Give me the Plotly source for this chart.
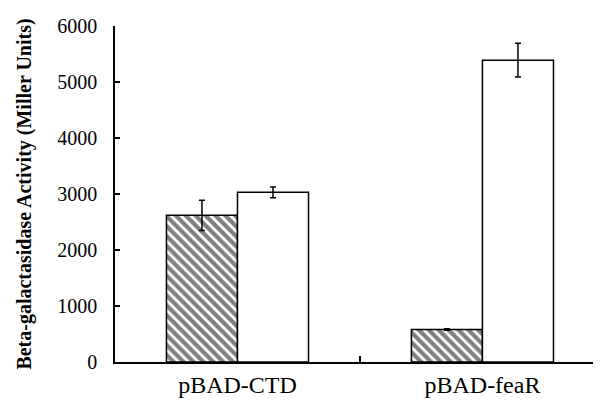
import plotly.graph_objects as go

categories = ["pBAD-CTD", "pBAD-feaR"]
hatched_values = [2620, 580]
hatched_errors = [270, 15]
open_values = [3030, 5390]
open_errors = [95, 300]
y_ticks = [0, 1000, 2000, 3000, 4000, 5000, 6000]

xpos = list(range(len(categories)))
font = "Liberation Serif, Times New Roman, serif"
xrange = [-0.5, 1.484]

fig = go.Figure()
fig.add_trace(go.Bar(
    x=xpos, y=hatched_values,
    error_y=dict(type="data", array=hatched_errors, color="black", thickness=1.5, width=3),
    marker=dict(color="white", line=dict(color="black", width=1.5),
                pattern=dict(shape="\\", fgcolor="black", bgcolor="white", size=7, solidity=0.6)),
    showlegend=False,
))
fig.add_trace(go.Bar(
    x=xpos, y=open_values,
    error_y=dict(type="data", array=open_errors, color="black", thickness=1.5, width=3),
    marker=dict(color="white", line=dict(color="black", width=1.5)),
    showlegend=False,
))
# invisible trace to activate the secondary x-axis used for the category boundary tick
fig.add_trace(go.Scatter(x=[0.5], y=[0], xaxis="x2", mode="markers",
                         marker=dict(opacity=0), showlegend=False, hoverinfo="skip"))

fig.update_layout(
    width=593, height=405,
    margin=dict(l=107, r=0, t=18, b=51),
    paper_bgcolor="white", plot_bgcolor="white",
    barmode="group", bargap=0.42, bargroupgap=0,
    font=dict(family=font, color="black", size=20),
    xaxis=dict(range=xrange, tickvals=xpos, ticktext=categories,
               ticks="", showline=True, linecolor="black", linewidth=1.5,
               showgrid=False, zeroline=False, tickfont=dict(size=24)),
    xaxis2=dict(overlaying="x", matches="x", range=xrange, tickvals=[0.5],
                ticks="inside", ticklen=6, tickwidth=1.5, tickcolor="black",
                showticklabels=False, showline=False, showgrid=False, zeroline=False,
                side="bottom", anchor="y"),
    yaxis=dict(range=[0, 6000], tickvals=y_ticks, ticks="inside", ticklen=5,
               tickwidth=1.5, tickcolor="black", showline=True, linecolor="black",
               linewidth=1.5, showgrid=False, zeroline=False, tickfont=dict(size=20),
               ticklabelstandoff=12,
               title=dict(text="<b>Beta-galactasidase Activity (Miller Units)</b>",
                          font=dict(size=20), standoff=20)),
)

fig.write_html("out.html")
